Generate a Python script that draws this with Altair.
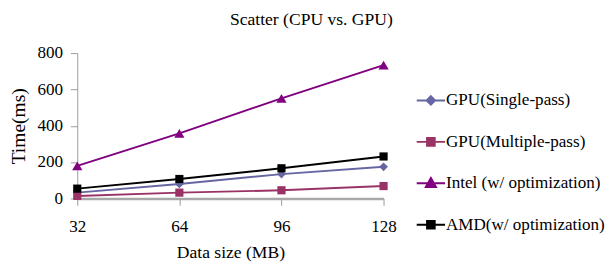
import altair as alt
import pandas as pd

# ---- data ----
sizes = [32, 64, 96, 128]
series_names = ["GPU(Single-pass)", "GPU(Multiple-pass)", "Intel (w/ optimization)", "AMD(w/ optimization)"]
gpu_single = [32, 80, 134, 174]
gpu_multi = [14, 32, 45, 68]
intel = [179, 358, 551, 734]
amd = [54, 107, 166, 231]
y_ticks = [0, 200, 400, 600, 800]

colors = ["#6666a3", "#993366", "#800080", "#000000"]
plot_shapes = ["diamond", "square", "triangle-up", "square"]
plot_sizes = [80, 70, 110, 70]
legend_shapes = [
    "M-1,0H1M0,-0.3L0.3,0L0,0.3L-0.3,0Z",
    "M-1,0H1M-0.27,-0.27H0.27V0.27H-0.27Z",
    "M-1,0H1M0,-0.38L0.36,0.27H-0.36Z",
    "M-1,0H1M-0.27,-0.27H0.27V0.27H-0.27Z",
]

rows = []
for name, vals in zip(series_names, [gpu_single, gpu_multi, intel, amd]):
    for s, v in zip(sizes, vals):
        rows.append({"size": s, "time": v, "series": name})
df = pd.DataFrame(rows)

FONT = "Liberation Serif"

x_scale = alt.Scale(domain=[32, 128], nice=False, zero=False)
y_scale = alt.Scale(domain=[0, 800], nice=False)

x_axis = alt.Axis(
    values=sizes, title="Data size (MB)", grid=False, labelFlush=False,
    tickSize=7, tickColor="#999999", domainColor="#a8a8a8", domainWidth=2.5,
    labelFont=FONT, labelFontSize=17.5, labelColor="black", labelPadding=13,
    titleFont=FONT, titleFontSize=18, titleFontWeight="normal", titleColor="black",
    titlePadding=9,
)
y_axis = alt.Axis(
    values=y_ticks, title="Time(ms)", grid=False, labelFlush=False,
    tickSize=7, tickColor="#999999", domainColor="#999999", domainWidth=1,
    labelFont=FONT, labelFontSize=17.5, labelColor="black", labelPadding=8,
    titleFont=FONT, titleFontSize=20, titleFontWeight="normal", titleColor="black",
    titlePadding=9,
)

x_enc = alt.X("size:Q", scale=x_scale, axis=x_axis)
y_enc = alt.Y("time:Q", scale=y_scale, axis=y_axis)

base = alt.Chart(df)

layers = []
for name, c, sh, sz in zip(series_names, colors, plot_shapes, plot_sizes):
    sub = base.transform_filter(alt.datum.series == name)
    layers.append(sub.mark_line(strokeWidth=2, color=c).encode(x=x_enc, y=y_enc))
    layers.append(
        sub.mark_point(shape=sh, filled=True, size=sz, color=c, opacity=1).encode(x=x_enc, y=y_enc)
    )

def leg():
    return alt.Legend(
        title=None, orient="none", legendX=347, legendY=33, padding=0,
        symbolSize=841, symbolStrokeWidth=2, rowPadding=18.5, labelOffset=0,
        labelFont=FONT, labelFontSize=17.5, labelColor="black", labelLimit=400,
    )

# legend-only layer: its marks lie far outside the clipped plot area
legend_layer = base.transform_calculate(hidden="datum.time + 100000").mark_point(
    filled=True, size=841, strokeWidth=2, opacity=1, clip=True
).encode(
    x=x_enc,
    y=alt.Y("hidden:Q", scale=y_scale, axis=y_axis),
    fill=alt.Fill("series:N", scale=alt.Scale(domain=series_names, range=colors), legend=leg()),
    stroke=alt.Stroke("series:N", scale=alt.Scale(domain=series_names, range=colors), legend=leg()),
    shape=alt.Shape("series:N", scale=alt.Scale(domain=series_names, range=legend_shapes), legend=leg()),
)

chart = alt.layer(*layers, legend_layer).properties(
    width=314, height=149, padding=0,
    title=alt.Title(
        "Scatter (CPU vs. GPU)", font=FONT, fontSize=18, fontWeight="normal",
        color="black", anchor="middle", frame="group", dx=83, offset=16,
    ),
).configure(font=FONT).configure_view(stroke=None)

chart.save("out.html", embed_options={"renderer": "svg", "actions": False})
